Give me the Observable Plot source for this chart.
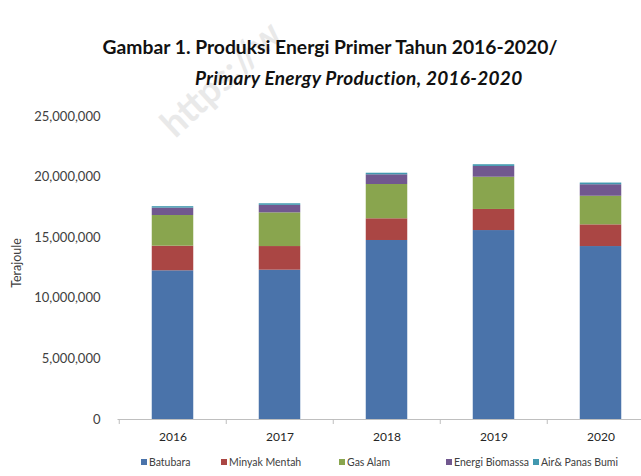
<!DOCTYPE html>
<html>
<head>
<meta charset="utf-8">
<script src="https://cdn.jsdelivr.net/npm/d3@7"></script>
<script src="https://cdn.jsdelivr.net/npm/@observablehq/plot@0.6"></script>
<style>
  html, body { margin: 0; padding: 0; background: #fff; }
  #wrap { position: relative; width: 641px; height: 476px; overflow: hidden; font-family: Lato, "Open Sans", sans-serif; }
  .t1 { position: absolute; top: 35px; left: 0; width: 660px; text-align: center; font-weight: bold; font-size: 19.3px; color: #111; }
  .t2 { position: absolute; top: 66px; left: 195px; font-weight: bold; font-style: italic; font-size: 19px; letter-spacing: 0.3px; color: #111; white-space: nowrap; }
  .wm { position: absolute; left: 150px; top: 112px; transform-origin: 0 0; transform: rotate(-43deg); font-size: 37px; font-weight: bold; color: #e9e9e9; white-space: nowrap; }
  .ylab { position: absolute; left: 16px; top: 263px; transform: translate(-50%, -50%) rotate(-90deg); font-size: 12.5px; color: #404040; white-space: nowrap; }
  #plot { position: absolute; left: 0; top: 100px; width: 660px; }
  #plot svg { max-width: none !important; }
  .leg { position: absolute; top: 456px; font-size: 10.5px; color: #404040; white-space: nowrap; display: flex; align-items: center; }
  .leg i { display: inline-block; width: 6px; height: 6px; margin-right: 2px; }
</style>
</head>
<body>
<div id="wrap">
  <div class="wm">https://w</div>
  <div class="t1">Gambar 1. Produksi Energi Primer Tahun 2016-2020/</div>
  <div class="t2">Primary Energy Production, 2016-2020</div>
  <div class="ylab">Terajoule</div>
  <div id="plot"></div>
</div>
<script>
const years = ["2016", "2017", "2018", "2019", "2020"];
const seriesNames = ["Batubara", "Minyak Mentah", "Gas Alam", "Energi Biomassa", "Air& Panas Bumi"];
const seriesColors = ["#4a73aa", "#aa4644", "#89a54e", "#71588f", "#4198af"];
const batubara = [12270000, 12320000, 14770000, 15590000, 14270000];
const minyakMentah = [2030000, 1950000, 1790000, 1740000, 1790000];
const gasAlam = [2530000, 2780000, 2830000, 2660000, 2360000];
const energiBiomassa = [610000, 620000, 800000, 890000, 950000];
const airPanasBumi = [120000, 130000, 130000, 140000, 140000];
const yTicks = [0, 5000000, 10000000, 15000000, 20000000, 25000000];

const seriesValues = [batubara, minyakMentah, gasAlam, energiBiomassa, airPanasBumi];
const table = [];
seriesNames.forEach((s, si) => years.forEach((y, yi) => table.push({year: y, series: s, value: seriesValues[si][yi]})));

const W = 660, ML = 117.5, MR = 5;
const step = (W - ML - MR) / years.length;
const barW = 42;

const chart = Plot.plot({
  width: W,
  height: 350,
  marginLeft: ML,
  marginRight: MR,
  marginTop: 16,
  marginBottom: 31,
  style: {fontFamily: "Lato, 'Open Sans', sans-serif", background: "transparent", maxWidth: "none"},
  x: {domain: years, padding: 0, axis: null},
  y: {domain: [0, 25000000], axis: null},
  color: {domain: seriesNames, range: seriesColors},
  marks: [
    Plot.barY(table, {x: "year", y: "value", fill: "series", insetLeft: (step - barW) / 2, insetRight: (step - barW) / 2}),
    Plot.ruleY([0], {stroke: "#bfbfbf", strokeWidth: 1.2}),
    Plot.ruleX(years, {x: d => d, dx: -step / 2, y1: 0, y2: 0, insetTop: 0, insetBottom: -5, stroke: "#bfbfbf"}),
    Plot.axisX({domain: years, tickSize: 0, tickPadding: 13, fontSize: 12, color: "#262626", label: null}),
    Plot.axisY({ticks: yTicks, tickSize: 0, tickPadding: 17.5, tickFormat: d3.format(","), fontSize: 13, color: "#404040", label: null})
  ]
});
chart.style.maxWidth = "none";
document.getElementById("plot").appendChild(chart);

const legX = [141, 221, 339, 446, 533];
const wrap = document.getElementById("wrap");
seriesNames.forEach((s, i) => {
  const d = document.createElement("div");
  d.className = "leg";
  d.style.left = legX[i] + "px";
  const sw = document.createElement("i");
  sw.style.background = seriesColors[i];
  d.appendChild(sw);
  d.appendChild(document.createTextNode(s));
  wrap.appendChild(d);
});
</script>
</body>
</html>
